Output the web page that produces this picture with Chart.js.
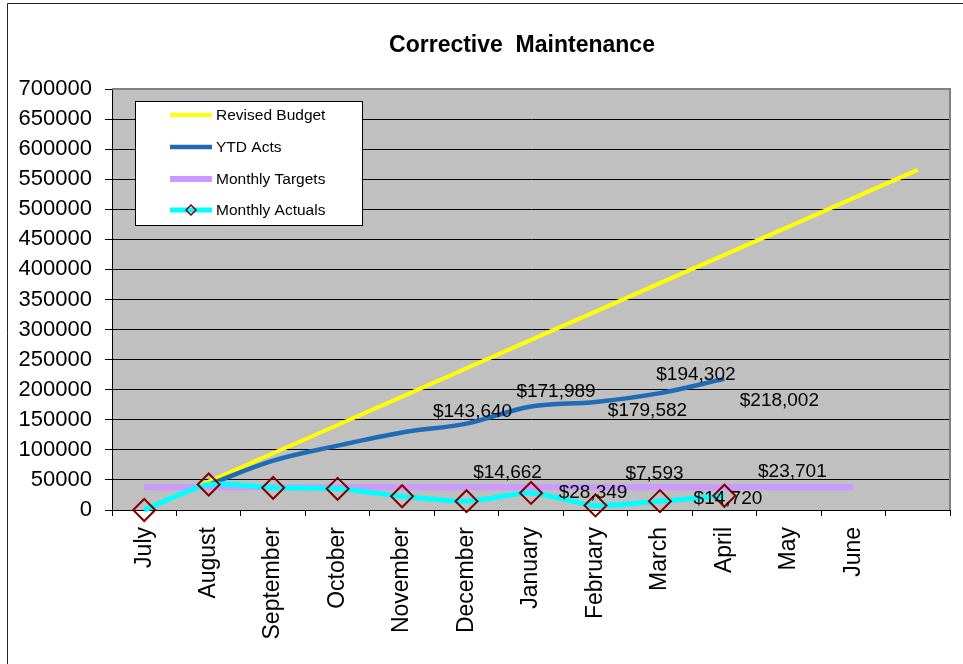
<!DOCTYPE html>
<html lang="en">
<head>
<meta charset="UTF-8">
<title>Corrective Maintenance</title>
<script src="https://cdn.jsdelivr.net/npm/chart.js"></script>
<style>
  html, body { margin: 0; padding: 0; background: #fff; }
  .chart-container { position: relative; width: 963px; height: 664px; }
</style>
</head>
<body>
<div class="chart-container">
  <canvas id="cmChart" width="963" height="664"></canvas>
</div>
<script>
// categories (last slot is an empty category, the budget line runs into it)
const months = ['July', 'August', 'September', 'October', 'November', 'December',
                'January', 'February', 'March', 'April', 'May', 'June', ''];

// series values
const revisedBudget = [0, 47100, 94300, 141400, 188500, 235700, 282800, 329900, 377100, 424200, 471300, 518500, 565600];
const ytdActs = [null, 42000, 82000, 107000, 129000, 143640, 171989, 179582, 194302, 218002, null, null, null];
const monthlyTargets = [37900, 37900, 37900, 37900, 37900, 37900, 37900, 37900, 37900, 37900, 37900, 37900, null];
const monthlyActuals = [0, 42400, 36900, 35200, 22900, 14662, 28349, 7593, 14720, 23701, null, null, null];

const FONT = '"Liberation Sans", Arial, sans-serif';

// gray plot area, outer frame, title
const frame = {
    id: 'frame',
    beforeDraw(chart) {
        const { ctx, chartArea: a } = chart;
        ctx.save();
        ctx.fillStyle = '#fff';
        ctx.fillRect(0, 0, chart.width, chart.height);
        ctx.fillStyle = '#c0c0c0';
        ctx.fillRect(a.left, a.top, a.right - a.left, a.bottom - a.top);
        ctx.strokeStyle = '#222';
        ctx.lineWidth = 1;
        ctx.beginPath();
        ctx.moveTo(7.5, chart.height);
        ctx.lineTo(7.5, 3.5);
        ctx.lineTo(chart.width, 3.5);
        ctx.stroke();
        ctx.fillStyle = '#000';
        ctx.font = 'bold 23px ' + FONT;
        ctx.textAlign = 'center';
        ctx.textBaseline = 'middle';
        ctx.fillText('Corrective  Maintenance', 522, 46);
        ctx.restore();
    },
    beforeDatasetsDraw(chart) {
        const { ctx, chartArea: a } = chart;
        ctx.save();
        ctx.strokeStyle = '#808080';
        ctx.lineWidth = 2;
        ctx.beginPath();
        ctx.moveTo(a.left, a.top);
        ctx.lineTo(a.right, a.top);
        ctx.lineTo(a.right, a.bottom);
        ctx.stroke();
        ctx.restore();
    }
};

// Excel style data labels, placed with small pixel offsets from their point
const valueLabels = {
    id: 'valueLabels',
    afterDatasetsDraw(chart, args, opts) {
        const ctx = chart.ctx;
        ctx.save();
        ctx.font = '19px ' + FONT;
        ctx.fillStyle = '#000';
        ctx.textAlign = 'center';
        ctx.textBaseline = 'middle';
        opts.sets.forEach(s => {
            const meta = chart.getDatasetMeta(s.dataset);
            const data = chart.data.datasets[s.dataset].data;
            Object.keys(s.offsets).forEach(k => {
                const i = +k;
                const pt = meta.data[i];
                const [dx, dy] = s.offsets[k];
                ctx.fillText('$' + data[i].toLocaleString('en-US'), pt.x + dx, pt.y + dy);
            });
        });
        ctx.restore();
    }
};

// boxed legend inside the plot area
const boxLegend = {
    id: 'boxLegend',
    afterDraw(chart) {
        const ctx = chart.ctx;
        const box = { x: 135.5, y: 101.5, w: 227, h: 124 };
        const rows = [115, 147, 179, 210];
        ctx.save();
        ctx.fillStyle = '#fff';
        ctx.fillRect(box.x, box.y, box.w, box.h);
        ctx.strokeStyle = '#000';
        ctx.lineWidth = 1;
        ctx.strokeRect(box.x, box.y, box.w, box.h);
        ctx.font = '15.5px ' + FONT;
        ctx.textAlign = 'left';
        ctx.textBaseline = 'middle';
        chart.data.datasets.forEach((ds, i) => {
            const y = rows[i];
            ctx.strokeStyle = ds.borderColor;
            ctx.lineWidth = ds.borderWidth;
            ctx.beginPath();
            ctx.moveTo(170, y);
            ctx.lineTo(212, y);
            ctx.stroke();
            if (ds.pointRadius > 0) {
                ctx.strokeStyle = ds.pointBorderColor;
                ctx.lineWidth = 1.5;
                ctx.beginPath();
                ctx.moveTo(191, y - 5);
                ctx.lineTo(196, y);
                ctx.lineTo(191, y + 5);
                ctx.lineTo(186, y);
                ctx.closePath();
                ctx.stroke();
            }
            ctx.fillStyle = '#000';
            ctx.fillText(ds.label, 216, y + 1);
        });
        ctx.restore();
    }
};

const ctx = document.getElementById('cmChart').getContext('2d');
const cmChart = new Chart(ctx, {
    type: 'line',
    data: {
        labels: months,
        datasets: [
            {
                label: 'Revised Budget',
                data: revisedBudget,
                borderColor: '#ffff00',
                borderWidth: 4,
                pointRadius: 0,
                tension: 0,
                order: 4
            },
            {
                label: 'YTD Acts',
                data: ytdActs,
                borderColor: '#1f6bb5',
                borderWidth: 4.5,
                pointRadius: 0,
                tension: 0.35,
                order: 3
            },
            {
                label: 'Monthly Targets',
                data: monthlyTargets,
                borderColor: '#cc99ff',
                borderWidth: 6,
                pointRadius: 0,
                order: 2
            },
            {
                label: 'Monthly Actuals',
                data: monthlyActuals,
                borderColor: '#00ffff',
                borderWidth: 5,
                tension: 0.25,
                pointStyle: 'rectRot',
                pointRadius: 11,
                pointBorderColor: '#800000',
                pointBorderWidth: 2,
                pointBackgroundColor: 'rgba(0,0,0,0)',
                clip: false,
                order: 1
            }
        ]
    },
    options: {
        responsive: false,
        animation: false,
        layout: { padding: { top: 89, right: 12, bottom: 0, left: 0 } },
        plugins: {
            legend: { display: false },
            tooltip: { enabled: false },
            valueLabels: {
                sets: [
                    { dataset: 1, offsets: { 5: [6, -12], 6: [25, -15], 7: [52, 9], 8: [36, -18], 9: [55, 22] } },
                    { dataset: 3, offsets: { 5: [41, -28], 6: [62, 0], 7: [59, -32], 8: [68, -2], 9: [68, -24] } }
                ]
            }
        },
        scales: {
            x: {
                offset: true,
                grid: { offset: true, drawOnChartArea: false, tickLength: 6, color: '#000' },
                border: { color: '#000' },
                ticks: {
                    autoSkip: false,
                    minRotation: 90,
                    maxRotation: 90,
                    padding: 11,
                    color: '#000',
                    font: { family: FONT, size: 23 }
                },
                afterFit(scale) { scale.height = 154; }
            },
            y: {
                min: 0,
                max: 700000,
                grid: { color: '#000', tickLength: 7 },
                border: { color: '#000' },
                ticks: {
                    stepSize: 50000,
                    padding: 13,
                    color: '#000',
                    font: { family: FONT, size: 22 },
                    callback: v => String(v)
                },
                afterFit(scale) { scale.width = 112; }
            }
        }
    },
    plugins: [frame, valueLabels, boxLegend]
});
</script>
</body>
</html>
